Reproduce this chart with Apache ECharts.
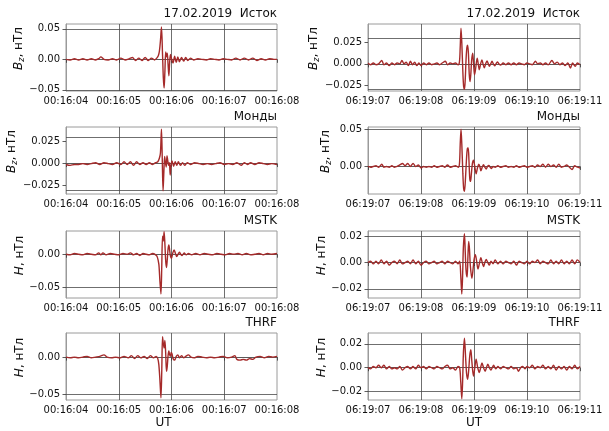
<!DOCTYPE html>
<html><head><meta charset="utf-8">
<script src="https://cdn.jsdelivr.net/npm/echarts@6/dist/echarts.min.js"></script>
<style>html,body{margin:0;padding:0;background:#fff}#c{width:609px;height:431px}</style>
</head><body><div id="c"></div>
<script>
// ---- tick labels ----
const timeLabelsL = ['00:16:04','00:16:05','00:16:06','00:16:07','00:16:08'];
const timeLabelsR = ['06:19:07','06:19:08','06:19:09','06:19:10','06:19:11'];
const rowTitles = ['17.02.2019  Исток','Монды','MSTK','THRF'];

// ---- data: [seconds from start, nT] ----
const istokL = [[0,0],[0.08,-0.001],[0.16,0.001],[0.24,-0.001],[0.32,0.001],[0.4,-0.001],[0.48,0.001],[0.56,-0.001],[0.62,0.001],[0.66,0.004],[0.72,0],[0.8,-0.001],[0.88,0.001],[0.96,-0.001],[1.04,0.002],[1.12,-0.001],[1.2,0.001],[1.26,0.003],[1.32,-0.002],[1.38,0.002],[1.44,-0.002],[1.5,0.003],[1.56,-0.002],[1.62,0.002],[1.68,-0.001],[1.72,0.002],[1.75,0.006],[1.77,0.013],[1.79,0.03],[1.81,0.053],[1.83,0.008],[1.845,-0.03],[1.86,-0.047],[1.875,-0.02],[1.89,0.012],[1.905,0.004],[1.92,0.01],[1.935,-0.008],[1.95,-0.027],[1.965,-0.005],[1.98,0.008],[2.0,0.001],[2.03,-0.006],[2.06,0.005],[2.09,-0.005],[2.12,0.004],[2.15,-0.004],[2.19,0.003],[2.23,-0.003],[2.27,0.003],[2.31,-0.002],[2.36,0.002],[2.42,-0.001],[2.5,0.001],[2.58,0],[2.66,-0.001],[2.74,0.001],[2.82,0],[2.9,-0.001],[2.98,0.001],[3.06,0],[3.14,-0.001],[3.22,0.002],[3.3,-0.001],[3.38,0.002],[3.46,-0.001],[3.54,0.002],[3.62,-0.002],[3.7,0.001],[3.78,-0.001],[3.86,0.001],[3.94,0],[4.0,0]];
const mondyL = [[0,-0.001],[0.08,-0.002],[0.16,-0.001],[0.24,-0.001],[0.32,0],[0.4,-0.001],[0.48,0],[0.56,0.001],[0.64,-0.001],[0.72,0.001],[0.8,0],[0.88,-0.001],[0.96,0.001],[1.04,-0.001],[1.1,0.002],[1.16,-0.001],[1.22,0.002],[1.28,-0.002],[1.34,0.002],[1.4,-0.001],[1.46,0.001],[1.52,-0.001],[1.58,0.001],[1.64,-0.001],[1.7,0.001],[1.74,0.002],[1.77,0.006],[1.79,0.012],[1.81,0.039],[1.825,0.005],[1.84,-0.031],[1.855,-0.01],[1.87,0.008],[1.885,0.001],[1.9,-0.004],[1.915,0.009],[1.93,0.003],[1.945,-0.002],[1.96,0.001],[1.975,-0.013],[1.99,-0.002],[2.01,0.003],[2.04,-0.003],[2.07,0.002],[2.1,-0.002],[2.13,0.002],[2.17,-0.002],[2.21,0.001],[2.25,-0.002],[2.3,0.001],[2.36,-0.001],[2.44,0.001],[2.52,0],[2.6,-0.001],[2.68,0],[2.76,-0.001],[2.84,0],[2.92,0.001],[3.0,-0.001],[3.08,0],[3.16,-0.001],[3.24,0.001],[3.32,-0.002],[3.38,0.001],[3.44,-0.001],[3.5,0.001],[3.58,-0.001],[3.66,0.001],[3.74,0],[3.82,-0.001],[3.9,0],[4.0,-0.001]];
const mstkL = [[0,0],[0.08,-0.001],[0.16,0.001],[0.24,0],[0.32,-0.001],[0.4,0.001],[0.48,0],[0.56,-0.001],[0.62,0.002],[0.66,-0.001],[0.7,0.002],[0.76,-0.001],[0.84,0.001],[0.92,0],[1.0,-0.001],[1.08,0.001],[1.16,0],[1.22,0.002],[1.28,-0.001],[1.34,0.001],[1.4,-0.002],[1.46,0.001],[1.52,0],[1.58,-0.001],[1.64,0.001],[1.7,-0.001],[1.73,-0.004],[1.76,-0.015],[1.78,-0.04],[1.8,-0.06],[1.815,-0.02],[1.83,0.027],[1.845,0.02],[1.86,0.034],[1.875,0.015],[1.89,-0.01],[1.905,-0.02],[1.92,-0.008],[1.935,0.008],[1.95,0.014],[1.965,0.006],[1.98,-0.003],[2.0,-0.006],[2.025,0.002],[2.05,0.0065],[2.075,0.001],[2.1,-0.0035],[2.125,0],[2.15,0.003],[2.175,0],[2.2,-0.002],[2.24,0.002],[2.28,-0.001],[2.32,0.001],[2.38,-0.001],[2.46,0.001],[2.54,-0.001],[2.62,0.001],[2.7,0],[2.78,-0.001],[2.86,0.001],[2.94,0],[3.02,-0.001],[3.1,0.001],[3.18,0],[3.26,0.001],[3.34,-0.001],[3.42,0.001],[3.5,-0.001],[3.58,0],[3.66,0.001],[3.74,-0.001],[3.82,0.001],[3.9,0],[4.0,0.001]];
const thrfL = [[0,0],[0.08,-0.001],[0.16,0],[0.24,-0.001],[0.32,0],[0.4,0.001],[0.48,-0.001],[0.56,0],[0.64,0.001],[0.72,0.003],[0.78,0],[0.86,-0.001],[0.94,0],[1.02,-0.001],[1.1,0.001],[1.18,-0.001],[1.24,0.002],[1.3,-0.002],[1.36,0.002],[1.42,-0.001],[1.48,0.001],[1.54,-0.002],[1.6,0.002],[1.66,-0.001],[1.71,0.001],[1.74,-0.002],[1.76,-0.01],[1.78,-0.03],[1.8,-0.054],[1.815,-0.02],[1.83,0.027],[1.845,0.018],[1.86,0.012],[1.875,0.022],[1.89,0.005],[1.905,-0.019],[1.92,-0.012],[1.935,0.002],[1.95,0.008],[1.965,0.003],[1.98,0.001],[1.995,0.006],[2.01,0.004],[2.03,-0.002],[2.06,-0.004],[2.09,0.001],[2.12,0.003],[2.15,-0.001],[2.19,0.002],[2.23,-0.001],[2.27,0.001],[2.32,0.003],[2.37,0],[2.43,-0.001],[2.5,0.001],[2.58,0],[2.66,-0.001],[2.74,0],[2.82,-0.001],[2.9,0],[2.98,0.001],[3.06,-0.001],[3.14,0],[3.2,0.002],[3.24,-0.003],[3.3,-0.004],[3.36,-0.003],[3.42,-0.004],[3.48,-0.002],[3.54,-0.003],[3.6,0],[3.68,0.001],[3.76,-0.001],[3.84,0.001],[3.92,0],[4.0,0.001]];
const istokR = [[0,0.001],[0.05,-0.001],[0.1,0.001],[0.15,-0.001],[0.2,0],[0.26,0.004],[0.3,-0.001],[0.35,0.001],[0.4,-0.002],[0.45,0.001],[0.5,-0.001],[0.55,0.001],[0.6,0],[0.64,0.004],[0.68,0],[0.72,0.002],[0.76,-0.002],[0.8,0.003],[0.84,-0.001],[0.88,0.002],[0.92,-0.002],[0.96,0.001],[1.0,-0.002],[1.05,0.001],[1.1,-0.001],[1.15,0.001],[1.2,-0.001],[1.25,0],[1.3,0.001],[1.35,-0.001],[1.4,0.001],[1.46,0.003],[1.5,-0.001],[1.55,0.001],[1.6,0],[1.65,0.001],[1.7,-0.001],[1.725,0.002],[1.74,0.02],[1.755,0.042],[1.77,0.025],[1.79,-0.01],[1.805,-0.027],[1.82,-0.03],[1.835,-0.018],[1.85,0.005],[1.865,0.019],[1.88,0.022],[1.895,0.012],[1.91,-0.012],[1.925,-0.021],[1.94,-0.012],[1.955,0.004],[1.975,0.0125],[1.99,0.002],[2.01,-0.013],[2.03,-0.006],[2.06,0.0066],[2.08,0],[2.1,-0.007],[2.125,0],[2.15,0.0047],[2.17,0],[2.195,-0.0047],[2.22,0],[2.245,0.0035],[2.27,0],[2.29,-0.003],[2.315,0],[2.34,0.003],[2.365,0],[2.39,-0.0023],[2.415,0],[2.44,0.0023],[2.47,0],[2.5,-0.0015],[2.55,0.001],[2.6,-0.001],[2.65,0.001],[2.7,-0.001],[2.75,0.001],[2.8,-0.001],[2.85,0.001],[2.9,0],[2.95,-0.001],[3.0,0.001],[3.05,0],[3.1,-0.001],[3.16,0.003],[3.2,0],[3.25,0.001],[3.3,-0.001],[3.35,0.001],[3.4,-0.001],[3.47,0.004],[3.52,0],[3.57,0.002],[3.62,-0.001],[3.67,0.001],[3.72,-0.002],[3.77,0.001],[3.82,-0.005],[3.86,0.001],[3.91,-0.003],[3.95,0.001],[4.0,-0.001]];
const mondyR = [[0,0],[0.05,-0.001],[0.1,0],[0.15,0.001],[0.2,-0.001],[0.26,0.003],[0.3,-0.001],[0.35,0],[0.4,-0.001],[0.45,0.001],[0.5,-0.001],[0.55,0],[0.6,0.002],[0.65,0.004],[0.7,0.001],[0.75,0.004],[0.8,0],[0.85,0.004],[0.9,0],[0.95,0.002],[1.0,-0.002],[1.05,0],[1.1,-0.001],[1.15,0],[1.2,-0.001],[1.25,0.001],[1.3,-0.001],[1.35,0],[1.4,0.001],[1.45,-0.001],[1.5,0.002],[1.55,-0.001],[1.6,0],[1.65,0.001],[1.7,-0.001],[1.725,0.003],[1.74,0.03],[1.755,0.05],[1.77,0.03],[1.79,-0.01],[1.805,-0.03],[1.82,-0.0335],[1.84,-0.015],[1.86,0.012],[1.875,0.024],[1.89,0.025],[1.905,0.008],[1.92,-0.016],[1.935,-0.02],[1.95,-0.01],[1.97,0.004],[1.99,0.0085],[2.01,0.002],[2.04,-0.01],[2.065,-0.002],[2.09,0.003],[2.11,0],[2.13,-0.006],[2.155,-0.001],[2.18,0.0022],[2.205,-0.001],[2.23,-0.0036],[2.255,0],[2.28,0.0013],[2.305,-0.001],[2.33,-0.0027],[2.36,0],[2.4,-0.001],[2.45,0.001],[2.5,-0.001],[2.55,0],[2.6,0.001],[2.65,-0.001],[2.7,0],[2.75,-0.001],[2.8,0.001],[2.85,-0.001],[2.9,0],[2.95,0.001],[3.0,-0.001],[3.05,0],[3.1,0.001],[3.15,-0.001],[3.2,0.002],[3.25,0],[3.3,0.003],[3.35,-0.001],[3.4,0.003],[3.45,0],[3.5,0.002],[3.55,-0.001],[3.6,0.003],[3.65,-0.001],[3.7,0],[3.75,0.002],[3.8,-0.001],[3.85,-0.004],[3.9,0.001],[3.95,-0.001],[4.0,-0.002]];
const mstkR = [[0,0],[0.05,0.001],[0.1,-0.001],[0.15,0.001],[0.2,-0.001],[0.25,0.002],[0.3,-0.001],[0.35,0.001],[0.4,-0.002],[0.45,0],[0.5,0.001],[0.55,-0.001],[0.6,0.002],[0.65,-0.001],[0.7,0],[0.75,0.001],[0.8,-0.001],[0.85,0.002],[0.9,-0.001],[0.95,0.001],[1.0,-0.002],[1.05,0],[1.1,0.001],[1.15,-0.001],[1.2,0],[1.25,0.001],[1.3,-0.001],[1.35,0],[1.4,0.001],[1.45,-0.001],[1.5,0.001],[1.55,0],[1.6,-0.001],[1.65,0.001],[1.7,-0.001],[1.73,0.001],[1.75,-0.01],[1.77,-0.024],[1.785,-0.01],[1.8,0.012],[1.82,0.022],[1.835,0.008],[1.85,-0.006],[1.87,-0.011],[1.885,0.004],[1.9,0.016],[1.915,0.01],[1.93,-0.002],[1.96,-0.012],[1.985,-0.004],[2.0,0.002],[2.025,0.006],[2.05,0.001],[2.075,-0.005],[2.1,-0.001],[2.13,0.0037],[2.155,0],[2.18,-0.003],[2.205,0],[2.23,0.0024],[2.26,0],[2.29,-0.002],[2.32,0.001],[2.36,-0.001],[2.4,0.002],[2.45,-0.001],[2.5,0.001],[2.55,-0.001],[2.6,0.001],[2.65,0],[2.7,-0.001],[2.75,0.001],[2.8,-0.002],[2.85,0.001],[2.9,0],[2.95,-0.001],[3.0,0.001],[3.05,-0.001],[3.1,0.001],[3.15,0],[3.2,0.002],[3.25,-0.001],[3.3,0.001],[3.35,0],[3.4,-0.001],[3.45,0.002],[3.5,-0.001],[3.55,0.001],[3.6,-0.001],[3.65,0.002],[3.7,-0.001],[3.75,0.001],[3.8,-0.001],[3.85,0.002],[3.9,-0.001],[3.95,0.002],[4.0,0]];
const thrfR = [[0,0],[0.05,-0.001],[0.1,0.001],[0.15,0],[0.2,0.002],[0.25,0],[0.3,0.002],[0.35,-0.001],[0.4,0.001],[0.45,-0.001],[0.5,0],[0.55,-0.001],[0.6,0.001],[0.65,-0.002],[0.7,0],[0.75,0.001],[0.8,-0.001],[0.85,0.001],[0.9,-0.001],[0.95,0.002],[1.0,0],[1.05,0.001],[1.1,-0.001],[1.15,0.001],[1.2,0],[1.25,-0.001],[1.3,0.001],[1.35,0],[1.4,-0.001],[1.45,0.001],[1.5,0.002],[1.55,-0.001],[1.6,0],[1.65,-0.002],[1.7,0.001],[1.73,0],[1.75,-0.012],[1.77,-0.026],[1.785,-0.012],[1.8,0.012],[1.82,0.0247],[1.84,0.01],[1.86,-0.005],[1.88,-0.0096],[1.9,-0.002],[1.92,0.01],[1.94,0.015],[1.96,0.005],[1.99,-0.007],[2.015,0],[2.04,0.007],[2.07,0],[2.1,-0.004],[2.125,0],[2.15,0.004],[2.18,0],[2.21,-0.003],[2.235,0],[2.26,0.003],[2.29,0],[2.32,-0.002],[2.345,0],[2.37,0.002],[2.41,-0.001],[2.45,0.001],[2.5,-0.001],[2.55,0.001],[2.6,0],[2.65,-0.001],[2.7,0.001],[2.75,-0.001],[2.8,0],[2.84,-0.003],[2.88,0],[2.92,0.001],[2.96,-0.001],[3.0,0.001],[3.05,0],[3.1,0.002],[3.15,-0.001],[3.2,0.001],[3.25,0],[3.3,0.002],[3.35,-0.001],[3.4,0.001],[3.45,-0.001],[3.5,0.002],[3.55,-0.002],[3.6,0.001],[3.65,-0.001],[3.7,0.001],[3.75,-0.002],[3.8,0.001],[3.85,-0.001],[3.9,0.002],[3.95,-0.001],[4.0,0.001]];

// ---- y axis ranges and tick values ----
const yRangeL = [[-0.052,0.058],[-0.0345,0.0415],[-0.066,0.035],[-0.057,0.032]];
const yRangeR = [[-0.032,0.047],[-0.037,0.053],[-0.027,0.024],[-0.027,0.029]];
const yTicksL = [[-0.05,0,0.05],[-0.025,0,0.025],[-0.05,0],[-0.05,0]];
const yTicksR = [[-0.025,0,0.025],[0,0.05],[-0.02,0,0.02],[-0.02,0,0.02]];
const yDecL = [2,3,2,2];
const yDecR = [3,2,2,2];
const yNames = ['{i|B}{s|z}{n|, нТл}','{i|B}{s|z}{n|, нТл}','{i|H}{n|, нТл}','{i|H}{n|, нТл}'];

const seriesL = [istokL, mondyL, mstkL, thrfL];
const seriesR = [istokR, mondyR, mstkR, thrfR];

const FONT = 'DejaVu Sans';
const rowTops = [24, 127, 231, 333];
const rowH = 67;
const cols = [{left:66, width:211, labels:timeLabelsL, ranges:yRangeL, ticks:yTicksL, dec:yDecL, data:seriesL, gap:36},
              {left:368, width:212, labels:timeLabelsR, ranges:yRangeR, ticks:yTicksR, dec:yDecR, data:seriesR, gap:35}];

const fmt = d => v => (v < 0 ? '\u2212' : '') + Math.abs(v).toFixed(d);
const GRIDC = '#4a4a4a';

const grid = [], xAxis = [], yAxis = [], series = [], title = [];
let idx = 0;
cols.forEach((c, ci) => {
  for (let r = 0; r < 4; r++) {
    const [ymin, ymax] = c.ranges[r];
    grid.push({left:c.left, top:rowTops[r], width:c.width, height:rowH, show:true, borderColor:'#9a9a9a', borderWidth:1, containLabel:false});
    xAxis.push({type:'value', gridIndex:idx, min:0, max:4, interval:1,
      axisLine:{show:true, lineStyle:{color:'#9a9a9a', width:1}},
      axisTick:{show:true, length:3.5, lineStyle:{color:'#333', width:0.8}},
      axisLabel:{fontFamily:FONT, fontSize:10, color:'#111', margin:5, formatter:v => c.labels[Math.round(v)]},
      splitLine:{show:true, showMinLine:false, showMaxLine:false, lineStyle:{color:GRIDC, width:0.8}},
      name: r === 3 ? 'UT' : '', nameLocation:'middle', nameGap:17,
      nameTextStyle:{fontFamily:FONT, fontSize:12, color:'#111', padding: ci === 0 ? [0,16,0,0] : [0,0,0,0]}
    });
    yAxis.push({type:'value', gridIndex:idx, min:ymin, max:ymax,
      axisLine:{show:true, lineStyle:{color:'#9a9a9a', width:1}},
      axisTick:{show:true, length:3.5, customValues:c.ticks[r], lineStyle:{color:'#333', width:0.8}},
      axisLabel:{fontFamily:FONT, fontSize:10, color:'#111', margin:6, customValues:c.ticks[r], formatter:fmt(c.dec[r])},
      splitLine:{show:false},
      name:yNames[r], nameLocation:'middle', nameRotate:90, nameGap:c.gap,
      nameTextStyle:{fontFamily:FONT, fontSize:12, color:'#111', padding:[0,0,0,18],
        rich:{i:{fontFamily:FONT, fontStyle:'italic', fontSize:12, color:'#111', lineHeight:14},
              s:{fontFamily:FONT, fontStyle:'italic', fontSize:8, color:'#111', lineHeight:14, verticalAlign:'bottom'},
              n:{fontFamily:FONT, fontSize:12, color:'#111', lineHeight:14}}}
    });
    series.push({type:'line', xAxisIndex:idx, yAxisIndex:idx, data:c.data[r], showSymbol:false, smooth:0.3,
      lineStyle:{color:'#a52a2a', width:1.4}, silent:true, animation:false, z:3,
      markLine:{silent:true, symbol:'none', animation:false, z:1, label:{show:false},
        lineStyle:{color:GRIDC, width:0.8, type:'solid'},
        emphasis:{disabled:true},
        data:c.ticks[r].filter(v => v > ymin && v < ymax).map(v => ({yAxis:v}))}
    });
    title.push({text:rowTitles[r], right:609 - c.left - c.width, top:rowTops[r] - 16, padding:0,
      textStyle:{fontFamily:FONT, fontSize:12, fontWeight:'normal', color:'#111'}});
    idx++;
  }
});

const chart = echarts.init(document.getElementById('c'), null, {renderer:'canvas'});
chart.setOption({backgroundColor:'#fff', animation:false, title, grid, xAxis, yAxis, series});
</script></body></html>
